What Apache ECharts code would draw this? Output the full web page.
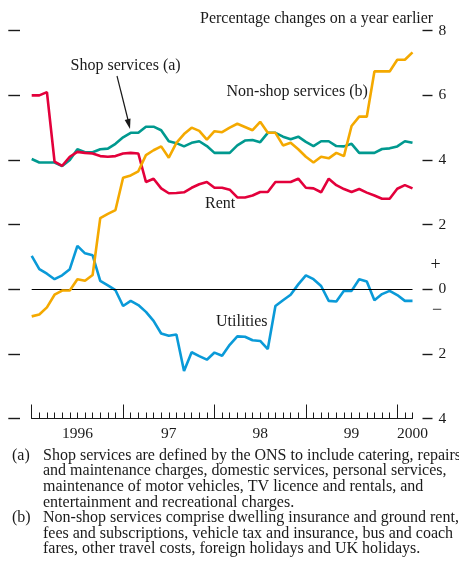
<!DOCTYPE html>
<html>
<head>
<meta charset="utf-8">
<script src="https://cdn.jsdelivr.net/npm/echarts@6/dist/echarts.min.js"></script>
<style>
html,body{margin:0;padding:0;background:#fff;}
#chart{width:459px;height:561px;}
</style>
</head>
<body>
<div id="chart"></div>
<script>
// Monthly categories, Jan 1996 - Mar 2000
const months = [
  '1996-01','1996-02','1996-03','1996-04','1996-05','1996-06','1996-07','1996-08','1996-09','1996-10','1996-11','1996-12',
  '1997-01','1997-02','1997-03','1997-04','1997-05','1997-06','1997-07','1997-08','1997-09','1997-10','1997-11','1997-12',
  '1998-01','1998-02','1998-03','1998-04','1998-05','1998-06','1998-07','1998-08','1998-09','1998-10','1998-11','1998-12',
  '1999-01','1999-02','1999-03','1999-04','1999-05','1999-06','1999-07','1999-08','1999-09','1999-10','1999-11','1999-12',
  '2000-01','2000-02','2000-03'
];
// Year labels and where they sit
const labelMonths = ['1996-07','1997-07','1998-07','1999-07','2000-03'];
const labelTexts  = ['1996','97','98','99','2000'];
// Major (year-start) ticks
const yearStarts = ['1996-01','1997-01','1998-01','1999-01','2000-01'];

// Percentage changes on a year earlier
const shopServices = [
  4.03,3.92,3.92,3.92,3.81,4.0,4.33,4.24,4.24,4.33,4.35,4.5,
  4.7,4.84,4.84,5.03,5.03,4.92,4.58,4.52,4.42,4.53,4.58,4.43,
  4.22,4.22,4.22,4.45,4.6,4.62,4.55,4.84,4.84,4.72,4.64,4.72,
  4.56,4.43,4.58,4.58,4.43,4.42,4.5,4.22,4.22,4.22,4.34,4.36,
  4.42,4.58,4.53
];
const nonShopServices = [
  -0.84,-0.78,-0.56,-0.17,-0.04,-0.04,0.31,0.26,0.44,2.2,2.33,2.45,
  3.45,3.52,3.65,4.15,4.3,4.42,4.07,4.53,4.8,5.0,4.9,4.63,
  4.89,4.86,5.0,5.12,5.02,4.92,5.18,4.84,4.84,4.45,4.53,4.33,
  4.1,3.92,4.1,4.05,4.22,4.12,5.05,5.34,5.34,6.74,6.74,6.74,
  7.1,7.1,7.33
];
const rent = [
  6.0,6.0,6.1,3.95,3.82,4.1,4.25,4.22,4.2,4.12,4.1,4.12,
  4.2,4.22,4.2,3.32,3.42,3.12,2.97,2.98,3.0,3.14,3.25,3.32,
  3.14,3.14,3.08,2.84,2.84,2.9,3.01,3.01,3.32,3.32,3.32,3.42,
  3.14,3.12,3.0,3.42,3.22,3.1,3.01,3.1,2.99,2.9,2.8,2.8,
  3.11,3.22,3.12
];
const utilities = [
  1.03,0.62,0.48,0.31,0.43,0.62,1.34,1.11,1.05,0.26,0.12,-0.03,
  -0.52,-0.36,-0.49,-0.7,-0.98,-1.37,-1.44,-1.4,-2.53,-1.95,-2.07,-2.18,
  -1.96,-2.06,-1.72,-1.46,-1.47,-1.58,-1.6,-1.85,-0.52,-0.34,-0.17,0.15,
  0.43,0.31,0.1,-0.36,-0.38,-0.05,-0.05,0.31,0.24,-0.34,-0.15,-0.05,
  -0.18,-0.36,-0.36
];

const SERIF = '"Liberation Serif", "Times New Roman", serif';
const INK = '#1a1a1a';
const FS = 16;

const chart = echarts.init(document.getElementById('chart'), null, {renderer: 'canvas'});

function txt(text, x, y, extra) {
  return {
    type: 'text', x: x, y: y, silent: true,
    style: Object.assign({text: text, fill: INK, fontFamily: SERIF, fontSize: FS,
      align: 'left', verticalAlign: 'middle'}, extra || {})
  };
}

const footnotes = [
  ['(a)', 'Shop services are defined by the ONS to include catering, repairs'],
  ['', 'and maintenance charges, domestic services, personal services,'],
  ['', 'maintenance of motor vehicles, TV licence and rentals, and'],
  ['', 'entertainment and recreational charges.'],
  ['(b)', 'Non-shop services comprise dwelling insurance and ground rent,'],
  ['', 'fees and subscriptions, vehicle tax and insurance, bus and coach'],
  ['', 'fares, other travel costs, foreign holidays and UK holidays.']
];
const graphics = [
  txt('Percentage changes on a year earlier', 200, 19),
  txt('Shop services (a)', 70.5, 66),
  txt('Non-shop services (b)', 226.5, 92),
  txt('Rent', 205, 204),
  txt('Utilities', 216, 322),
  txt('+', 435.5, 265, {align: 'center', fontSize: 18}),
  txt('\u2212', 437, 310.5, {align: 'center', fontSize: 18}),
  {type: 'line', silent: true, shape: {x1: 117, y1: 76, x2: 128.3, y2: 121},
   style: {stroke: INK, lineWidth: 1.2}},
  {type: 'polygon', silent: true, shape: {points: [[130, 129], [124.7, 120], [130.5, 118.6]]},
   style: {fill: INK}}
];
const lineYs = [455.7, 471.2, 486.8, 502.4, 518.2, 533.5, 549];
footnotes.forEach((f, i) => {
  if (f[0]) graphics.push(txt(f[0], 12, lineYs[i]));
  graphics.push(txt(f[1], 43, lineYs[i]));
});

const lineSeries = (name, data, color, z) => ({
  name: name, type: 'line', data: data, symbol: 'none', smooth: false,
  lineStyle: {color: color, width: 2.6}, z: z, animation: false, silent: true
});

chart.setOption({
  animation: false,
  backgroundColor: '#fff',
  textStyle: {fontFamily: SERIF},
  grid: {left: 31.7, right: 46.5, top: 30.7, bottom: 142.5, containLabel: false},
  xAxis: [
    {
      type: 'category', data: months, boundaryGap: false, position: 'bottom',
      axisLine: {show: true, onZero: false, lineStyle: {color: INK, width: 1}},
      axisTick: {show: true, interval: 0, inside: true, length: 6, lineStyle: {color: INK, width: 1}},
      axisLabel: {
        show: true, margin: 7, fontSize: 15.5, color: INK, fontFamily: SERIF,
        interval: (idx, val) => labelMonths.indexOf(val) >= 0,
        formatter: (val) => labelTexts[labelMonths.indexOf(val)]
      },
      splitLine: {show: false}
    },
    {
      type: 'category', data: months, boundaryGap: false, position: 'bottom',
      axisLine: {show: false, onZero: false},
      axisTick: {show: true, inside: true, length: 14,
        interval: (idx, val) => yearStarts.indexOf(val) >= 0,
        lineStyle: {color: INK, width: 1}},
      axisLabel: {show: false},
      splitLine: {show: false}
    }
  ],
  yAxis: [
    {
      type: 'value', min: -4, max: 8, interval: 2, position: 'right', offset: 10,
      axisLine: {show: false},
      axisTick: {show: true, length: 10, lineStyle: {color: INK, width: 1.4}},
      axisLabel: {show: true, margin: 16, fontSize: 15.5, color: INK, fontFamily: SERIF,
        formatter: (v) => String(Math.abs(v))},
      splitLine: {show: false}
    },
    {
      type: 'value', min: -4, max: 8, interval: 2, position: 'left', offset: 11.7,
      axisLine: {show: false},
      axisTick: {show: true, length: 11.7, lineStyle: {color: INK, width: 1.4}},
      axisLabel: {show: false},
      splitLine: {show: false}
    }
  ],
  series: [
    lineSeries('Shop services (a)', shopServices, '#00998f', 2),
    lineSeries('Rent', rent, '#e3003b', 3),
    Object.assign(lineSeries('Utilities', utilities, '#0a9ad8', 4), {
      markLine: {
        silent: true, symbol: 'none', animation: false,
        label: {show: false},
        lineStyle: {color: '#000', width: 1, type: 'solid'},
        data: [{yAxis: 0}]
      }
    }),
    lineSeries('Non-shop services (b)', nonShopServices, '#f4a900', 5)
  ],
  graphic: graphics
});
</script>
</body>
</html>
